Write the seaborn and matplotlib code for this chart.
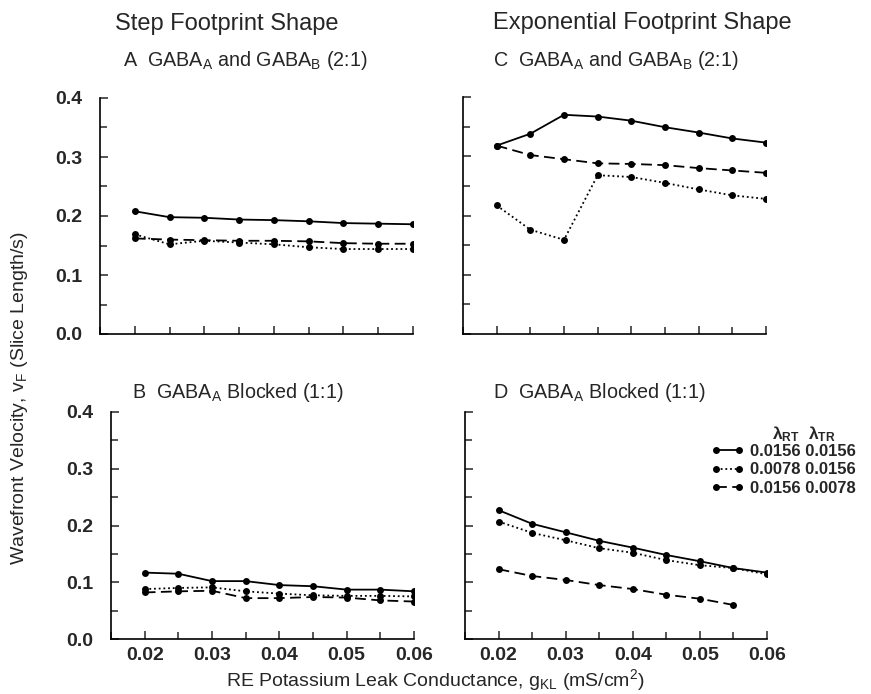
import numpy as np
import pandas as pd
import matplotlib
matplotlib.use("Agg")
import matplotlib.pyplot as plt
from matplotlib.lines import Line2D
from matplotlib.ticker import MultipleLocator, FormatStrFormatter
import seaborn as sns

# ---------------- data ----------------
g_kl = [0.02, 0.025, 0.03, 0.035, 0.04, 0.045, 0.05, 0.055, 0.06]

A_solid = [0.208, 0.198, 0.197, 0.194, 0.193, 0.191, 0.188, 0.187, 0.186]
A_dotted = [0.169, 0.152, 0.158, 0.155, 0.152, 0.147, 0.144, 0.144, 0.144]
A_dashed = [0.162, 0.160, 0.159, 0.158, 0.158, 0.157, 0.154, 0.153, 0.153]

B_solid = [0.117, 0.115, 0.102, 0.102, 0.095, 0.093, 0.087, 0.087, 0.084]
B_dotted = [0.088, 0.090, 0.091, 0.084, 0.080, 0.077, 0.076, 0.076, 0.075]
B_dashed = [0.082, 0.084, 0.085, 0.072, 0.072, 0.074, 0.073, 0.068, 0.066]

C_solid = [0.318, 0.338, 0.370, 0.367, 0.360, 0.349, 0.340, 0.330, 0.323]
C_dotted = [0.217, 0.176, 0.159, 0.268, 0.265, 0.255, 0.244, 0.234, 0.228]
C_dashed = [0.318, 0.302, 0.295, 0.288, 0.287, 0.285, 0.280, 0.276, 0.272]

D_solid = [0.227, 0.203, 0.188, 0.173, 0.161, 0.148, 0.137, 0.125, 0.117]
D_dotted = [0.207, 0.187, 0.174, 0.160, 0.152, 0.139, 0.130, 0.125, 0.114]
D_dashed = [0.123, 0.111, 0.104, 0.095, 0.088, 0.078, 0.071, 0.060]

series_names = ["0.0156 0.0156", "0.0078 0.0156", "0.0156 0.0078"]
col_titles = ["Step Footprint Shape", "Exponential Footprint Shape"]
panel_titles = {
    "A": "A  GABA$_\\mathregular{A}$ and GABA$_\\mathregular{B}$ (2:1)",
    "B": "B  GABA$_\\mathregular{A}$ Blocked (1:1)",
    "C": "C  GABA$_\\mathregular{A}$ and GABA$_\\mathregular{B}$ (2:1)",
    "D": "D  GABA$_\\mathregular{A}$ Blocked (1:1)",
}
x_ticks = [0.02, 0.03, 0.04, 0.05, 0.06]
y_ticks = [0.0, 0.1, 0.2, 0.3, 0.4]

panels = {
    "A": [A_solid, A_dotted, A_dashed],
    "B": [B_solid, B_dotted, B_dashed],
    "C": [C_solid, C_dotted, C_dashed],
    "D": [D_solid, D_dotted, D_dashed],
}

# ---------------- style ----------------
sns.set_style("white")
plt.rcParams["font.family"] = ["Liberation Sans", "DejaVu Sans"]
plt.rcParams["mathtext.fontset"] = "custom"
plt.rcParams["mathtext.rm"] = "Liberation Sans"
plt.rcParams["mathtext.it"] = "Liberation Sans:italic"
plt.rcParams["mathtext.bf"] = "Liberation Sans:bold"

dash_map = {series_names[0]: "", series_names[1]: (1, 1.6), series_names[2]: (6, 3)}
marker_map = {s: "o" for s in series_names}

fig = plt.figure(figsize=(8.71, 6.94), dpi=100)
W, H = 871.0, 694.0

def px_axes(x0, x1, ytop, ybot):
    return fig.add_axes([x0 / W, 1 - ybot / H, (x1 - x0) / W, (ybot - ytop) / H])

axes = {
    "A": px_axes(100, 413, 98, 334),
    "C": px_axes(463, 766, 97, 334),
    "B": px_axes(111, 414, 412, 639),
    "D": px_axes(465, 767, 412, 639),
}

for key, ax in axes.items():
    rows = []
    for name, vals in zip(series_names, panels[key]):
        for xv, yv in zip(g_kl, vals):
            rows.append({"g": xv, "v": yv, "series": name})
    df = pd.DataFrame(rows)
    sns.lineplot(data=df, x="g", y="v", style="series", style_order=series_names,
                 dashes=dash_map, markers=marker_map, color="black",
                 linewidth=1.3, markersize=5, markeredgewidth=0,
                 legend=False, ax=ax, sort=False)
    ax.set_xlim(0.015, 0.06)
    ax.set_ylim(0.0, 0.4)
    ax.set_xticks(x_ticks)
    ax.set_yticks(y_ticks)
    ax.xaxis.set_minor_locator(MultipleLocator(0.005))
    ax.yaxis.set_minor_locator(MultipleLocator(0.05))
    ax.xaxis.set_major_formatter(FormatStrFormatter("%.2f"))
    ax.yaxis.set_major_formatter(FormatStrFormatter("%.1f"))
    ax.tick_params(which="major", direction="in", length=6, width=1.1,
                   labelsize=14, pad=6, bottom=True, left=True)
    ax.tick_params(axis="y", which="major", pad=13)
    ax.tick_params(which="minor", direction="in", length=5, width=1.1,
                   bottom=True, left=True)
    for lab in ax.get_xticklabels() + ax.get_yticklabels():
        lab.set_fontweight("bold")
    ax.set_xlabel("")
    ax.set_ylabel("")
    for side in ["top", "right"]:
        ax.spines[side].set_visible(False)
    for side in ["left", "bottom"]:
        ax.spines[side].set_linewidth(1.2)
        ax.spines[side].set_color("black")
    if key in ("A", "C"):
        ax.tick_params(axis="x", labelbottom=False)
    if key in ("C", "D"):
        ax.tick_params(axis="y", labelleft=False)

# column titles
fig.text(227 / W, 1 - 24 / H, col_titles[0], ha="center", va="center", fontsize=17)
fig.text(642 / W, 1 - 23 / H, col_titles[1], ha="center", va="center", fontsize=17)

# panel titles
fig.text(123 / W, 1 - 61 / H, panel_titles["A"], ha="left", va="center", fontsize=14.2)
fig.text(493 / W, 1 - 60 / H, panel_titles["C"], ha="left", va="center", fontsize=14.2)
fig.text(132 / W, 1 - 392 / H, panel_titles["B"], ha="left", va="center", fontsize=14.2)
fig.text(493 / W, 1 - 392 / H, panel_titles["D"], ha="left", va="center", fontsize=14.2)

# axis labels
fig.text(20 / W, 1 - 398 / H, "Wavefront Velocity, v$_\\mathregular{F}$ (Slice Length/s)",
         rotation=90, ha="center", va="center", fontsize=14)
fig.text(435 / W, 1 - 680 / H,
         "RE Potassium Leak Conductance, g$_\\mathregular{KL}$ (mS/cm$^\\mathregular{2}$)",
         ha="center", va="center", fontsize=14)

# legend in panel D
handles = [Line2D([], [], color="black", linewidth=1.3, marker="o", markersize=5,
                  markeredgewidth=0,
                  dashes=(dash_map[s] if dash_map[s] != "" else (None, None)))
           for s in series_names]
handles[0].set_linestyle("-")
leg = axes["D"].legend(handles, series_names, loc="upper left",
                       bbox_to_anchor=(711 / W, 1 - 444 / H),
                       bbox_transform=fig.transFigure, frameon=False,
                       numpoints=2, handlelength=2.0, handletextpad=0.35,
                       labelspacing=0.2, borderpad=0, borderaxespad=0,
                       prop={"size": 12, "weight": "bold"})
fig.text(786 / W, 1 - 434 / H, "λ$_\\mathregular{RT}$", ha="center", va="center",
         fontsize=12.5, fontweight="bold")
fig.text(822 / W, 1 - 434 / H, "λ$_\\mathregular{TR}$", ha="center", va="center",
         fontsize=12.5, fontweight="bold")

fig.savefig("out.png", dpi=100)
